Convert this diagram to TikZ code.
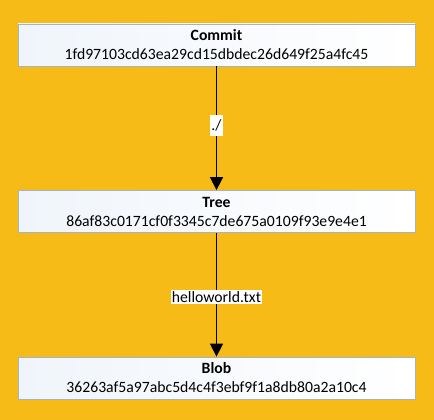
\documentclass[tikz,border=0pt]{standalone}
\usepackage{fontspec}
\setmainfont{Carlito}
\usetikzlibrary{arrows.meta}
\definecolor{bgorange}{RGB}{247,187,23}
\definecolor{boxborder}{RGB}{160,180,206}
\definecolor{boxtint}{RGB}{240,245,251}
\begin{document}
\begin{tikzpicture}[x=1pt,y=-1pt,
  objbox/.style={draw=boxborder, line width=0.8pt, left color=boxtint, right color=white,
    minimum width=397pt, minimum height=42pt, inner sep=0pt, align=center,
    font=\fontsize{15.7}{19}\selectfont},
  link/.style={draw=black, line width=1.6pt, -{Triangle[length=13pt,width=13pt]}},
  linklabel/.style={fill=white, inner xsep=1pt, inner ysep=1.5pt, font=\fontsize{15.7}{19}\selectfont}]
\fill[bgorange] (0,0) rectangle (434,420);
\useasboundingbox (0,0) rectangle (434,420);
\node[objbox] (commit) at (216.5,45) {\textbf{Commit}\\1fd97103cd63ea29cd15dbdec26d649f25a4fc45};
\node[objbox] (tree) at (216.5,211.5) {\textbf{Tree}\\86af83c0171cf0f3345c7de675a0109f93e9e4e1};
\node[objbox] (blob) at (216.5,378) {\textbf{Blob}\\36263af5a97abc5d4c4f3ebf9f1a8db80a2a10c4};
\draw[link] (commit) -- node[linklabel, minimum height=21pt, pos=0.48] (lbl1) {./} (tree);
\draw[link] (tree) -- node[linklabel, pos=0.52] (lbl2) {helloworld.txt} (blob);
\end{tikzpicture}
\end{document}
